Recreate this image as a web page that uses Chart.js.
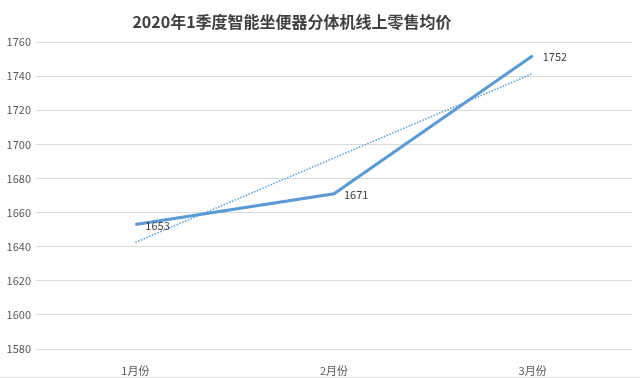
<!DOCTYPE html>
<html>
<head>
<meta charset="utf-8">
<script src="https://cdn.jsdelivr.net/npm/chart.js@4"></script>
<style>
    html, body { margin: 0; padding: 0; background: #fff; }
    #wrap { width: 640px; height: 377px; border-bottom: 1px solid #e3e3e3; }
</style>
</head>
<body>
<div id="wrap"><canvas id="chart" width="640" height="377"></canvas></div>
<script>
const chartTitle = "2020年1季度智能坐便器分体机线上零售均价";
const months = ["1月份", "2月份", "3月份"];
const prices = [1653, 1671, 1752];
// linear trend line
const trendValues = [1642.5, 1692, 1741.5];
const yTicks = [1580, 1600, 1620, 1640, 1660, 1680, 1700, 1720, 1740, 1760];

const blue = "#5B9BD5";

// draws the title slightly left of centre like the original
const titlePlugin = {
    id: "titleText",
    afterDraw(chart) {
        const ctx = chart.ctx;
        ctx.save();
        ctx.font = "bold 16px 'Noto Sans CJK SC', sans-serif";
        ctx.fillStyle = "#404040";
        ctx.textAlign = "center";
        ctx.textBaseline = "middle";
        ctx.fillText(chartTitle, 292, 22);
        ctx.restore();
    }
};

// value labels to the right of each point
const valueLabels = {
    id: "valueLabels",
    afterDatasetsDraw(chart) {
        const ctx = chart.ctx;
        const meta = chart.getDatasetMeta(0);
        ctx.save();
        ctx.font = "11px 'Noto Sans CJK SC', sans-serif";
        ctx.fillStyle = "#404040";
        ctx.textAlign = "left";
        ctx.textBaseline = "middle";
        meta.data.forEach((pt, i) => {
            ctx.fillText(String(prices[i]), pt.x + 10, pt.y + 1);
        });
        ctx.restore();
    }
};

new Chart(document.getElementById("chart"), {
    type: "line",
    data: {
        labels: months,
        datasets: [
            {
                data: prices,
                borderColor: blue,
                borderWidth: 3,
                pointRadius: 0,
                tension: 0,
                order: 1
            },
            {
                data: trendValues,
                borderColor: blue,
                borderWidth: 1.5,
                borderDash: [1.5, 1.5],
                borderCapStyle: "butt",
                pointRadius: 0,
                tension: 0,
                order: 2
            }
        ]
    },
    options: {
        responsive: false,
        animation: false,
        layout: {padding: {top: 42, right: 8, bottom: 0, left: 0}},
        plugins: {
            legend: {display: false},
            tooltip: {enabled: false},
            title: {display: false}
        },
        scales: {
            x: {
                offset: true,
                grid: {display: false},
                border: {display: false},
                ticks: {
                    color: "#595959",
                    padding: 7,
                    font: {size: 11, family: "'Noto Sans CJK SC', sans-serif"}
                },
                afterFit(scale) { scale.height = 28; }
            },
            y: {
                min: 1580,
                max: 1760,
                afterBuildTicks(scale) {
                    scale.ticks = yTicks.map(v => ({value: v}));
                },
                grid: {color: "#d9d9d9", drawTicks: false, lineWidth: 1},
                border: {display: false},
                ticks: {
                    color: "#595959",
                    padding: 5,
                    callback: v => String(v),
                    font: {size: 11, family: "'Noto Sans CJK SC', sans-serif"}
                },
                afterFit(scale) { scale.width = 36; }
            }
        }
    },
    plugins: [titlePlugin, valueLabels]
});
</script>
</body>
</html>
